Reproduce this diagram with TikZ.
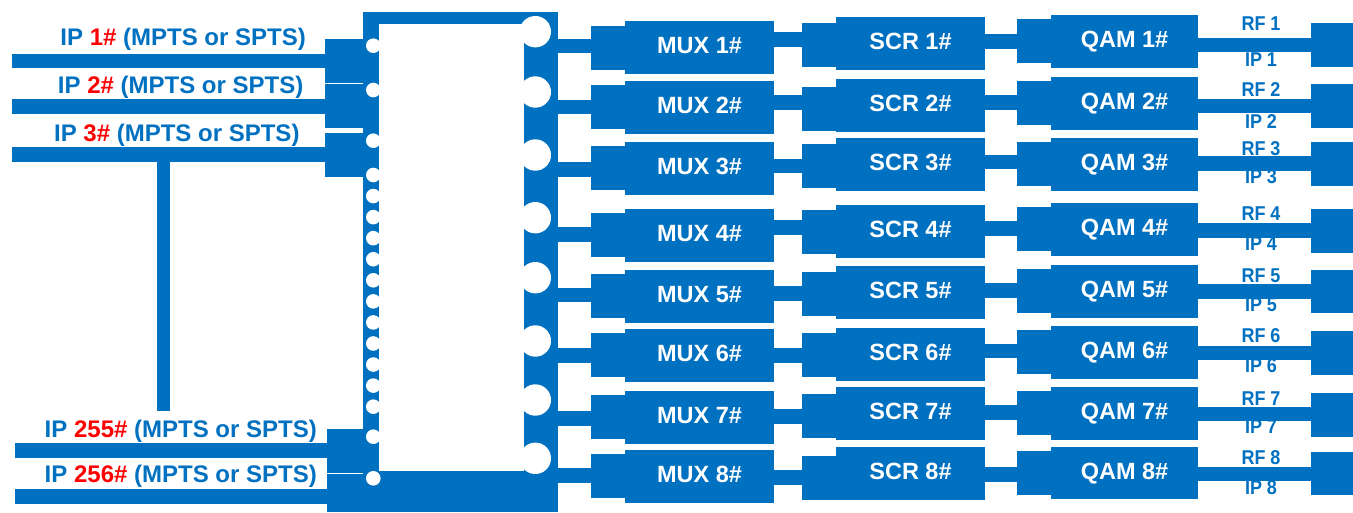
\documentclass[tikz,border=0pt]{standalone}
\usepackage{fontspec}
\setmainfont{Liberation Sans}
\newfontfamily\narrowfont[FakeStretch=0.9]{Liberation Sans}
\definecolor{myblue}{RGB}{0,112,192}
\definecolor{myred}{RGB}{255,0,0}
\begin{document}
\begin{tikzpicture}[x=1pt,y=-1pt,
  blk/.style={fill=myblue, draw=none, inner sep=0pt, outer sep=0pt},
  bodybox/.style={blk, minimum width=149pt, minimum height=53pt, text=white,
    font=\bfseries\fontsize{23.5}{28}\selectfont, text depth=4pt},
  stepbox/.style={blk, minimum width=183pt, minimum height=44pt},
  bar/.style={draw=myblue, line width=14.5pt},
  hole/.style={circle, fill=white, draw=none, inner sep=0pt, outer sep=0pt},
  inlabel/.style={anchor=base east, inner sep=0pt, text=myblue,
    font=\bfseries\fontsize{24}{28}\selectfont},
  outlabel/.style={inner sep=0pt, text=myblue,
    font=\narrowfont\bfseries\fontsize{20}{24}\selectfont},
]
\useasboundingbox (0,0) rectangle (1353,512);

% ---------- inputs ----------
\coordinate (in1) at (11.5,60.8);
\coordinate (in2) at (11.5,106.7);
\coordinate (in3) at (11.5,154.3);
\coordinate (in255) at (15.3,450.5);
\coordinate (in256) at (15.3,496.7);

\node[blk, minimum width=38.3pt, minimum height=43.7pt] (sq1) at (344.15,60.85) {};
\node[blk, minimum width=38.3pt, minimum height=44.2pt] (sq2) at (344.15,105.6) {};
\node[blk, minimum width=38.3pt, minimum height=44pt] (sq3) at (344.15,154.7) {};
\node[blk, minimum width=36.6pt, minimum height=44pt] (sq255) at (345,451.3) {};
\node[blk, minimum width=231pt, minimum height=38.2pt] (base) at (442.2,492.9) {};

\draw[bar] (in1) -- (sq1.west |- in1);
\draw[bar] (in2) -- (sq2.west |- in2);
\draw[bar] (in3) -- (sq3.west |- in3);
\draw[bar] (in255) -- (sq255.west |- in255);
\draw[bar] (in256) -- (base.west |- in256);

\coordinate (stubtop) at (163.6,154.3);
\coordinate (stubend) at (163.6,410.7);
\draw[draw=myblue, line width=13.3pt] (stubtop) -- (stubend);

\node[inlabel] (l1) at (306,45) {IP \textcolor{myred}{1\#} (MPTS or SPTS)};
\node[inlabel] (l2) at (303.5,93.3) {IP \textcolor{myred}{2\#} (MPTS or SPTS)};
\node[inlabel] (l3) at (299.7,141.5) {IP \textcolor{myred}{3\#} (MPTS or SPTS)};
\node[inlabel] (l255) at (317,437.3) {IP \textcolor{myred}{255\#} (MPTS or SPTS)};
\node[inlabel] (l256) at (317,482.7) {IP \textcolor{myred}{256\#} (MPTS or SPTS)};

% ---------- device block ----------
\node[blk, minimum width=194.4pt, minimum height=499.7pt] (dev) at (460.5,262.15) {};
\node[fill=white, draw=none, inner sep=0pt, minimum width=145.3pt, minimum height=446.7pt] (core) at (451.35,247.35) {};

\foreach \y [count=\k] in {45.7,90,140.7} {
  \node[hole, minimum size=14.6pt] (ha\k) at (373.3,\y) {};
}
\foreach \k in {0,...,11} {
  \node[hole, minimum size=14.6pt] (hb\k) at (373.3,175+21.06*\k) {};
}
\node[hole, minimum size=14.6pt] (hc1) at (373.3,436.7) {};
\node[hole, minimum size=14.6pt] (hc2) at (373.3,478.3) {};

\foreach \y [count=\k] in {31.7,92,155,217.7,277.7,341,400,458.3} {
  \node[hole, minimum size=31.4pt] (port\k) at (535.3,\y) {};
}

% ---------- rows ----------
\foreach \i/\yb/\ym/\yms/\ys/\yss/\ysq/\yq/\yqs/\yo/\yt/\yrf/\yip in {
  1/46.2/47.5/39.5/43.3/45/41.5/41.3/40.8/44.8/45/23.3/59.3,
  2/106.8/107.2/102.5/105.5/108.8/102.5/103.7/103.3/105.8/106/90/121.7,
  3/169.5/168.3/166/164.5/166/162/164.5/164/163.5/164/148.3/176.7,
  4/234.7/235.3/227.5/231.3/232/228.5/229.5/229.2/230.5/230.8/213.3/243.3,
  5/295.2/296.3/293.5/292.5/293.7/290.5/291.3/291/291.5/291.7/276/305,
  6/355.5/355.3/355.5/354.2/355/350.8/352.5/352/353/353/336/366,
  7/418.5/417.2/416.7/413.3/415.8/412.5/413.3/412.7/414.2/415/398.3/426.7,
  8/475.5/476.3/477.5/473.3/477.5/474.5/473/473.2/474.2/473.7/457.3/487.3} {
  \node[stepbox] (muxs\i) at (682.5,\ym) {};
  \node[bodybox] (mux\i) at (699.5,\ym) {MUX \i\#};
  \node[stepbox] (scrs\i) at (893.5,\yss) {};
  \node[bodybox, minimum height=53.3pt] (scr\i) at (910.5,\ys) {SCR \i\#};
  \node[stepbox, minimum width=181pt] (qams\i) at (1107.5,\yqs) {};
  \node[bodybox, minimum width=147pt, minimum height=52.7pt] (qam\i) at (1124.5,\yq) {QAM \i\#};
  \node[blk, minimum width=42pt, minimum height=43.4pt] (term\i) at (1332,\yt) {};
  \draw[bar] (dev.east |- 0,\yb) -- (muxs\i.west |- 0,\yb);
  \draw[bar] (mux\i.east |- 0,\yms) -- (scrs\i.west |- 0,\yms);
  \draw[bar] (scr\i.east |- 0,\ysq) -- (qams\i.west |- 0,\ysq);
  \draw[bar] (qam\i.east |- 0,\yo) -- (term\i.west |- 0,\yo);
  \node[outlabel] (rf\i) at (1261,\yrf) {RF \i};
  \node[outlabel] (ip\i) at (1261,\yip) {IP \i};
}
\end{tikzpicture}
\end{document}
